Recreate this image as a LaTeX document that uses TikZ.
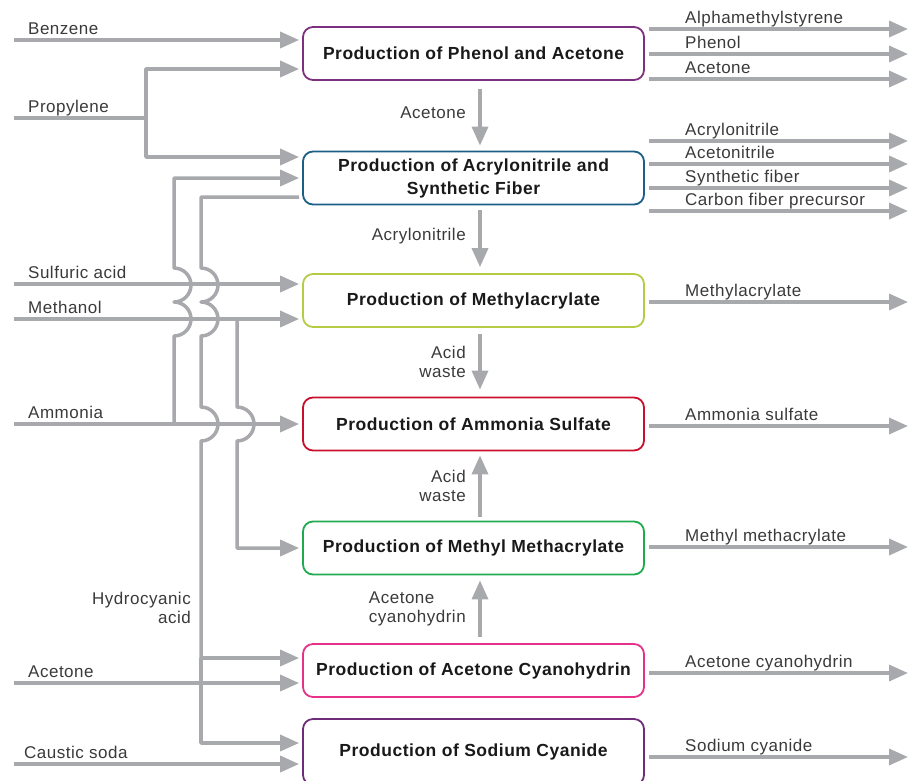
\documentclass[tikz,border=0pt]{standalone}
\usepackage{fontspec}
\setmainfont{Liberation Sans}[LetterSpace=3]
\usetikzlibrary{arrows.meta}

\definecolor{pipegray}{HTML}{A7A9AC}
\definecolor{txtgray}{HTML}{3A3A3A}
\definecolor{cphenol}{HTML}{7D2F80}
\definecolor{cacryl}{HTML}{1B5E86}
\definecolor{cmethacr}{HTML}{B3CC43}
\definecolor{cammsulf}{HTML}{C8102E}
\definecolor{cmma}{HTML}{1FAA50}
\definecolor{cacch}{HTML}{E6308A}
\definecolor{cnacn}{HTML}{6F2C7A}

\tikzset{
  plant/.style={draw=#1, line width=1.8pt, rounded corners=10pt, minimum width=341pt,
    minimum height=53pt, inner sep=0pt, align=center, text=black!90,
    font=\fontsize{17.5}{23}\selectfont\bfseries},
  pipe/.style={draw=pipegray, line width=3.5pt, line join=round},
  flow/.style={pipe, -{Triangle[length=19pt,width=16pt]}},
  into/.style={flow, shorten >=3pt},
  lbl/.style={text=txtgray, inner sep=0pt, anchor=base west, font=\fontsize{17}{19}\selectfont},
  note/.style={text=txtgray, inner sep=0pt, font=\fontsize{17}{19}\selectfont},
}

\begin{document}
\begin{tikzpicture}[x=1pt,y=-1pt]
    \useasboundingbox (0,0) rectangle (917,780);
    % plants
    \node[plant=cphenol] (phenol) at (473.5,53.5) {Production of Phenol and Acetone};
    \node[plant=cacryl] (acryl) at (473.5,178) {Production of Acrylonitrile and\\Synthetic Fiber};
    \node[plant=cmethacr] (methacr) at (473.5,300.5) {Production of Methylacrylate};
    \node[plant=cammsulf] (ammsulf) at (473.5,424) {Production of Ammonia Sulfate};
    \node[plant=cmma] (mma) at (473.5,548) {Production of Methyl Methacrylate};
    \node[plant=cacch] (acch) at (473.5,670.5) {Production of Acetone Cyanohydrin};
    \node[plant=cnacn, minimum height=66pt] (nacn) at (473.5,752) {Production of Sodium Cyanide};

    % links between plants
    \draw[flow, shorten <=8pt, shorten >=5pt] ([xshift=6.5pt]phenol.south) -- ([xshift=6.5pt]acryl.north)
        node[note, pos=.45, left=12.5pt] (l-acetone) {Acetone};
    \draw[flow, shorten <=5pt, shorten >=6pt] ([xshift=6.5pt]acryl.south) -- ([xshift=6.5pt]methacr.north)
        node[note, pos=.45, left=12.5pt] (l-acryl) {Acrylonitrile};
    \draw[flow, shorten <=6pt, shorten >=7pt] ([xshift=6.5pt]methacr.south) -- ([xshift=6.5pt]ammsulf.north)
        node[note, midway, left=12.5pt, align=right] (l-waste1) {Acid\\waste};
    \draw[flow, shorten <=4pt, shorten >=4pt] ([xshift=6.5pt]mma.north) -- ([xshift=6.5pt]ammsulf.south)
        node[note, midway, left=12.5pt, align=right] (l-waste2) {Acid\\waste};
    \draw[flow, shorten <=6pt, shorten >=5pt] ([xshift=6.5pt]acch.north) -- ([xshift=6.5pt]mma.south)
        node[note, midway, left=12.5pt, align=left] (l-acch) {Acetone\\cyanohydrin};

    % feeds
    \foreach \nm/\y/\lx/\t/\plant in {benzene/40/28/Benzene/phenol, sulfuric/284/28/Sulfuric acid/methacr,
        methanol/319/28/Methanol/methacr, ammonia/424/28/Ammonia/ammsulf,
        acetone/683/28/Acetone/acch, caustic/764/24/Caustic soda/nacn}{
        \coordinate (\nm) at (14,\y);
        \node[lbl] (\nm-l) at (\lx,\y-6) {\t};
        \draw[into] (\nm) -- (\plant.west |- \nm);
    }
    \coordinate (propylene) at (14,118);
    \node[lbl] (propylene-l) at (28,112) {Propylene};
    \coordinate (propj) at (146,118);
    \draw[pipe] (propylene) -- (propj);
    \draw[into] (propj) |- (phenol.west |- 0,69);
    \draw[into] (propj) |- (acryl.west |- 0,157);

    % ammonia up to acrylonitrile, hopping the acid and methanol lines
    \coordinate (ammj) at (174,424);
    \draw[into] (ammj) -- (174,336) arc[start angle=90, end angle=-90, radius=17]
        arc[start angle=90, end angle=-90, radius=17] -- (174,178) -- (acryl.west |- 0,178);

    % methanol down to methyl methacrylate
    \coordinate (methj) at (237,319);
    \draw[into] (methj) -- (237,407) arc[start angle=-90, end angle=90, radius=17] |- (mma.west |- 0,548);

    % hydrocyanic acid from the acrylonitrile plant
    \coordinate (hcnj) at (201,658);
    \draw[pipe, shorten <=3pt] (acryl.west |- 0,197) -- (201,197) -- (201,268)
        arc[start angle=-90, end angle=90, radius=17] arc[start angle=-90, end angle=90, radius=17]
        -- (201,407) arc[start angle=-90, end angle=90, radius=17] -- (hcnj);
    \draw[into] (hcnj) -- (acch.west |- hcnj);
    \draw[into] (hcnj) |- (nacn.west |- 0,743);
    \node[note, align=right, anchor=north east] (hcn-l) at (191,592) {Hydrocyanic\\acid};

    % products
    \foreach \plant/\y/\t [count=\n] in {phenol/29/Alphamethylstyrene, phenol/54/Phenol, phenol/79/Acetone,
        acryl/141/Acrylonitrile, acryl/164/Acetonitrile, acryl/188/Synthetic fiber,
        acryl/211/Carbon fiber precursor, methacr/302/Methylacrylate, ammsulf/426/Ammonia sulfate,
        mma/547/Methyl methacrylate, acch/673/Acetone cyanohydrin, nacn/757/Sodium cyanide}{
        \coordinate (out\n) at (908,\y);
        \draw[flow, shorten <=4pt] (\plant.east |- out\n) -- (out\n);
        \node[lbl] (out\n-l) at (685,\y-6) {\t};
    }
\end{tikzpicture}
\end{document}
